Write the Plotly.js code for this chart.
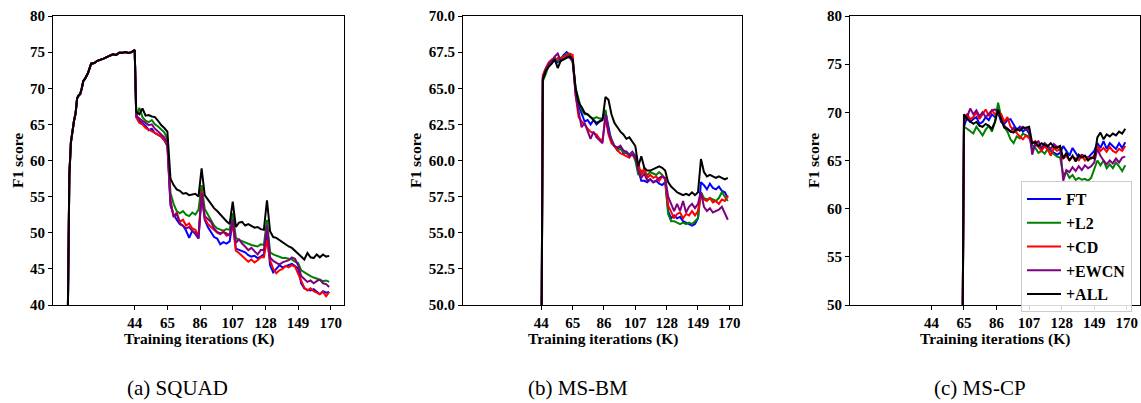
<!DOCTYPE html>
<html><head><meta charset="utf-8">
<script src="https://cdn.plot.ly/plotly-3.0.1.min.js"></script>
<style>html,body{margin:0;padding:0;background:#fff;}#chart{width:1141px;height:403px;}</style>
</head><body><div id="chart"></div>
<script>
// ---------------- data ----------------
const seriesNames = ['FT', '+L2', '+CD', '+EWCN', '+ALL'];
const seriesColors = ['#0000ff', '#008000', '#ff0000', '#800080', '#000000'];
const xTickVals = [44, 65, 86, 107, 128, 149, 170];
const panelCaptions = ['(a) SQUAD', '(b) MS-BM', '(c) MS-CP'];

// iteration grid (K) used after the first task boundary
const xTail = [45,47,49,51,53,55,57,59,61,63,65,67,69,71,73,75,77,79,81,83,85,87,89,91,93,95,97,99,101,103,
  105,107,109,111,113,115,117,119,121,123,125,127,129,131,133,135,137,139,141,143,145,147,149,151,153,155,157,159,161,163,
  165,167,169];

// (a) SQUAD: shared first task (0-44K)
const squadPrefixX = [1,2,3,4,5,6,7,8,9,10,11,12,14,16,18,20,22,24,26,28,30,32,34,36,38,40,42,44];
const squadPrefixY = [38,58,62.5,64.3,65.5,66.5,68.6,69.0,69.2,70.0,71.0,71.3,72.1,73.4,73.5,73.8,73.9,74.1,74.3,74.5,74.7,74.6,74.9,74.9,75.0,74.9,75.0,75.3];
const squadFT = [66.0,65.5,65.2,64.8,64.2,64.4,63.8,63.5,63.3,62.8,
  62.0,53.8,52.5,51.8,51.2,51.0,50.3,49.3,50.3,49.8,
  49.2,55.3,51.8,50.8,50.0,49.4,49.2,48.4,48.7,48.5,
  48.8,51.5,47.8,47.6,47.4,47.3,46.9,46.7,46.8,46.5,
  46.7,47.0,50.0,45.5,44.5,45.0,45.5,45.2,45.4,45.6,
  45.7,45.4,45.0,43.0,42.3,42.1,42.0,42.2,41.9,41.5,
  41.9,41.7,41.8];
const squadL2 = [66.0,67.3,66.0,65.5,65.3,65.6,65.0,64.7,64.3,63.9,
  63.0,55.5,54.0,53.0,52.7,53.0,52.5,52.3,52.8,52.5,
  53.2,56.6,53.3,52.5,51.8,51.0,50.6,50.4,50.3,50.5,
  50.4,52.7,49.3,49.0,48.8,48.6,48.5,48.3,48.2,48.1,
  48.4,48.3,51.8,47.3,47.0,46.8,46.7,46.5,46.5,46.4,
  46.3,46.0,45.8,44.8,44.5,44.2,44.0,43.8,43.7,43.5,
  43.3,43.4,43.2];
const squadCD = [66.0,65.2,65.0,64.5,64.3,64.0,63.9,63.6,63.3,62.9,
  62.2,54.5,52.2,52.8,51.5,51.8,51.0,51.3,50.6,50.4,
  49.5,55.8,52.0,51.2,50.8,50.4,50.0,49.8,50.2,49.6,
  49.8,51.3,47.5,47.2,46.8,46.5,46.0,46.3,45.9,46.2,
  46.6,46.6,49.0,46.2,45.0,44.4,44.8,45.0,45.4,45.2,
  45.5,45.3,44.3,43.2,42.4,42.0,42.3,41.9,41.7,41.5,
  41.8,41.2,41.8];
const squadEWCN = [66.2,65.8,65.5,65.2,64.9,65.0,64.4,64.0,63.6,63.2,
  62.5,54.2,52.3,52.6,51.3,51.0,50.6,50.8,50.2,50.0,
  49.2,55.5,52.3,51.9,51.5,50.6,50.1,49.9,50.1,49.9,
  49.6,51.8,48.6,49.1,48.5,48.1,47.6,47.9,47.5,47.0,
  47.6,47.6,51.0,46.6,46.1,45.8,45.6,45.9,46.0,46.2,
  46.6,46.4,45.5,44.0,43.6,43.2,43.4,43.0,43.3,43.5,
  43.0,42.9,42.5];
const squadALL = [66.7,66.4,67.2,66.2,66.3,66.1,66.0,65.5,64.9,64.5,
  64.0,57.5,56.6,56.0,55.8,55.4,55.5,55.2,55.3,55.4,
  55.0,58.9,55.2,54.6,54.1,53.4,53.0,52.5,52.0,51.6,
  51.2,54.3,50.8,51.4,51.5,51.0,51.2,50.9,50.7,50.8,
  50.5,50.4,54.5,50.2,49.4,49.3,49.0,48.6,48.4,48.1,
  47.9,47.5,47.2,46.8,46.3,47.2,46.6,46.5,47.0,46.6,
  47.0,46.7,46.8];

// (b) MS-BM: starts at 44K
const bmStartX = 44;
const bmStartY = 45;
const bmFT = [65.8,66.3,66.6,66.9,67.1,66.8,67.0,67.3,67.5,67.3,
  67.0,64.8,63.8,63.2,62.7,62.8,62.5,62.8,62.5,62.7,
  62.9,63.4,62.2,61.3,61.0,60.8,61.0,60.5,60.6,60.4,
  60.6,60.3,59.3,58.6,58.6,58.5,58.7,58.5,58.6,58.4,
  58.3,58.5,56.5,56.0,56.2,56.0,56.1,55.8,55.7,55.6,
  55.5,55.6,56.0,58.5,58.3,58.0,58.4,58.1,58.0,58.2,
  57.9,57.8,57.4];
const bmL2 = [65.5,66.0,66.6,66.8,67.0,66.9,67.1,67.2,67.4,67.2,
  66.8,65.0,64.2,63.5,63.2,63.2,63.0,62.9,63.0,62.9,
  62.9,63.5,62.0,61.5,61.0,60.7,60.8,60.6,60.5,60.4,
  60.5,60.0,59.0,59.3,59.2,59.0,59.2,59.1,59.0,59.2,
  59.0,58.7,56.3,55.8,55.8,55.7,55.6,55.7,55.6,55.7,
  55.6,55.8,56.0,57.8,57.4,57.3,57.4,57.3,57.2,57.4,
  57.8,57.5,57.2];
const bmCD = [65.9,66.4,66.8,67.0,66.9,67.1,67.0,67.2,67.3,67.4,
  67.3,64.5,63.0,62.7,62.5,62.2,62.0,61.9,61.8,61.5,
  61.4,63.0,61.8,61.2,61.0,60.7,60.5,60.4,60.3,60.2,
  60.5,60.2,59.8,59.0,59.5,58.8,59.0,58.8,58.9,58.6,
  58.9,58.7,56.9,56.4,56.0,56.3,56.4,56.0,56.3,56.2,
  56.5,56.2,56.5,57.6,57.3,57.2,57.4,57.1,57.2,57.0,
  57.3,57.2,57.6];
const bmEWCN = [65.7,66.3,66.7,66.9,67.2,67.4,66.9,67.0,67.2,67.1,
  66.9,64.5,63.3,62.3,62.6,62.0,61.5,62.0,61.6,61.4,
  61.2,63.2,62.0,61.4,61.0,60.9,61.0,60.7,60.6,60.3,
  60.4,60.2,59.3,58.8,59.1,58.6,58.7,58.5,58.6,58.8,
  58.9,58.8,57.5,57.0,56.5,57.0,56.5,57.2,56.4,56.8,
  57.0,56.7,57.0,57.8,56.8,56.5,56.7,56.4,56.5,56.6,
  56.8,56.4,55.9];
const bmALL = [65.6,66.2,66.5,66.7,67.0,66.4,66.9,67.0,67.1,67.2,
  67.0,65.0,64.0,63.7,63.3,63.2,63.0,62.8,62.6,62.7,
  62.8,64.4,64.2,63.2,62.6,62.3,62.0,61.8,61.5,61.6,
  61.3,61.0,59.6,60.3,59.5,59.3,59.3,59.4,59.5,59.6,
  59.5,59.3,58.5,58.2,58.0,57.8,57.7,57.6,57.7,57.6,
  57.8,57.6,57.8,60.1,59.2,58.9,59.0,58.9,58.8,58.9,
  58.8,58.7,58.8];

// (c) MS-CP: starts at 65K
const cpStartX = 64;
const cpStartY = 45;
const cpFT = [68.5,69.5,69.0,69.3,69.5,68.8,69.0,69.5,69.2,69.8,
  69.5,70.0,69.0,68.8,69.2,69.3,68.7,68.2,68.5,68.0,
  68.3,67.8,66.0,66.6,66.5,66.2,66.5,66.3,66.0,65.8,
  65.6,65.8,66.5,66.0,65.5,66.3,65.8,65.3,65.6,65.4,
  65.3,65.6,66.0,66.8,66.3,67.0,66.2,66.8,66.5,66.2,
  66.8,66.3,66.9];
const cpL2 = [68.5,68.3,68.0,67.8,68.5,68.0,67.6,68.2,68.6,68.0,
  69.0,71.0,69.5,68.5,68.0,67.2,66.8,67.5,67.3,67.8,
  67.6,67.5,66.6,66.3,65.8,66.0,65.7,66.2,65.9,65.6,
  65.4,65.3,63.5,63.8,63.2,63.5,63.0,63.2,63.0,63.1,
  62.9,63.2,64.0,65.0,64.5,65.0,64.2,64.6,64.2,64.8,
  64.4,63.9,64.5];
const cpCD = [69.5,69.8,69.3,69.5,70.0,69.3,69.8,70.3,69.6,70.2,
  69.8,70.0,69.8,69.0,69.5,68.5,68.2,67.8,67.5,67.2,
  67.6,67.3,66.8,67.0,66.4,66.0,66.5,66.1,65.5,66.3,
  66.0,66.2,65.2,65.5,65.0,65.4,65.2,65.0,65.5,65.0,
  65.3,65.2,65.5,66.5,66.0,66.3,65.9,66.4,66.0,65.8,
  66.2,66.0,66.5];
const cpEWCN = [69.0,69.5,70.4,69.8,70.2,69.6,70.0,69.5,69.8,70.2,
  70.3,70.0,69.2,68.6,68.3,68.0,68.4,68.1,68.3,68.5,
  68.2,68.3,65.6,66.8,67.0,66.3,66.8,66.5,66.2,66.7,
  66.4,66.5,62.9,64.0,63.8,64.3,63.9,64.4,64.0,64.5,
  64.2,64.4,64.8,66.2,65.5,65.0,64.6,65.0,64.7,65.2,
  64.8,65.3,65.4];
const cpALL = [69.8,69.3,69.0,68.8,69.0,68.6,68.5,68.8,68.6,68.3,
  69.0,70.3,69.2,68.4,68.3,68.0,67.9,68.3,68.1,68.4,
  68.4,68.5,66.8,66.9,66.5,66.8,66.6,66.5,66.8,66.4,
  66.3,66.5,65.2,65.8,65.0,65.5,64.9,65.6,65.3,65.5,
  65.0,65.3,65.2,67.4,67.9,67.2,67.7,67.5,67.8,67.6,
  68.0,67.8,68.3];

// ---------------- build ----------------
const W = 1141, H = 403;
const FONT = 'Liberation Serif, Times New Roman, serif';
const traces = [];
function addPanel(xs, ysList, ax, showLegend) {
  ysList.forEach((ys, i) => {
    traces.push({
      type: 'scatter', mode: 'lines', x: xs, y: ys,
      xaxis: 'x' + ax, yaxis: 'y' + ax,
      name: seriesNames[i], showlegend: showLegend,
      line: {color: seriesColors[i], width: 2},
      hoverinfo: 'skip'
    });
  });
}
const squadX = squadPrefixX.concat(xTail);
addPanel(squadX, [squadFT, squadL2, squadCD, squadEWCN, squadALL].map(t => squadPrefixY.concat(t)), '', false);
const bmX = [bmStartX].concat(xTail);
addPanel(bmX, [bmFT, bmL2, bmCD, bmEWCN, bmALL].map(t => [bmStartY].concat(t)), '2', false);
const cpTailX = xTail.slice(xTail.indexOf(65));
const cpX = [cpStartX].concat(cpTailX);
addPanel(cpX, [cpFT, cpL2, cpCD, cpEWCN, cpALL].map(t => [cpStartY].concat(t)), '3', true);

const px = v => v / W;
const py = v => 1 - v / H;
const tickFont = {family: FONT, size: 15, color: '#000', weight: 'bold'};
function xax(d0, d1, anchor) {
  return {domain: [px(d0), px(d1)], anchor: anchor, range: [-8.5, 178.5],
    tickmode: 'array', tickvals: xTickVals, ticks: 'outside', ticklen: 4, tickcolor: '#000',
    showline: true, mirror: true, linecolor: '#000', linewidth: 1,
    showgrid: false, zeroline: false, tickfont: tickFont, fixedrange: true};
}
function yax(lo, hi, dt, fmt, anchor) {
  return {domain: [py(305), py(16)], anchor: anchor, range: [lo, hi],
    tickmode: 'linear', tick0: lo, dtick: dt, tickformat: fmt, ticks: 'outside', ticklen: 4, tickcolor: '#000',
    showline: true, mirror: true, linecolor: '#000', linewidth: 1,
    showgrid: false, zeroline: false, tickfont: tickFont, fixedrange: true};
}
const titleFont = {family: FONT, size: 15.5, color: '#000', weight: 'bold'};
const annotations = [];
[[53, 344, 17], [463, 742, 415], [850, 1140, 813]].forEach((p, i) => {
  annotations.push({xref: 'paper', yref: 'paper', x: px((p[0] + p[1]) / 2), y: py(339),
    text: 'Training iterations (K)', showarrow: false, xanchor: 'center', yanchor: 'middle', font: titleFont});
  annotations.push({xref: 'paper', yref: 'paper', x: px(p[2]), y: py(161), textangle: -90,
    text: 'F1 score', showarrow: false, xanchor: 'center', yanchor: 'middle', font: titleFont});
});
[177.5, 577.5, 980].forEach((cx, i) => {
  annotations.push({xref: 'paper', yref: 'paper', x: px(cx), y: py(388),
    text: panelCaptions[i], showarrow: false, xanchor: 'center', yanchor: 'middle',
    font: {family: FONT, size: 21, color: '#000'}});
});

const layout = {
  width: W, height: H, margin: {l: 0, r: 0, t: 0, b: 0},
  paper_bgcolor: '#fff', plot_bgcolor: '#fff',
  xaxis: xax(53, 344, 'y'), yaxis: yax(40, 80, 5, 'd', 'x'),
  xaxis2: xax(463, 742, 'y2'), yaxis2: yax(50, 70, 2.5, '.1f', 'x2'),
  xaxis3: xax(850, 1140, 'y3'), yaxis3: yax(50, 80, 5, 'd', 'x3'),
  showlegend: true,
  legend: {x: px(1021), y: py(181), xanchor: 'left', yanchor: 'top',
    bgcolor: 'rgba(255,255,255,0.85)', bordercolor: '#cccccc', borderwidth: 1, itemwidth: 34,
    font: {family: FONT, size: 16, color: '#000', weight: 'bold'}, tracegroupgap: 0},
  annotations: annotations,
  hovermode: false
};
Plotly.newPlot('chart', traces, layout, {staticPlot: true, displayModeBar: false});
</script></body></html>
